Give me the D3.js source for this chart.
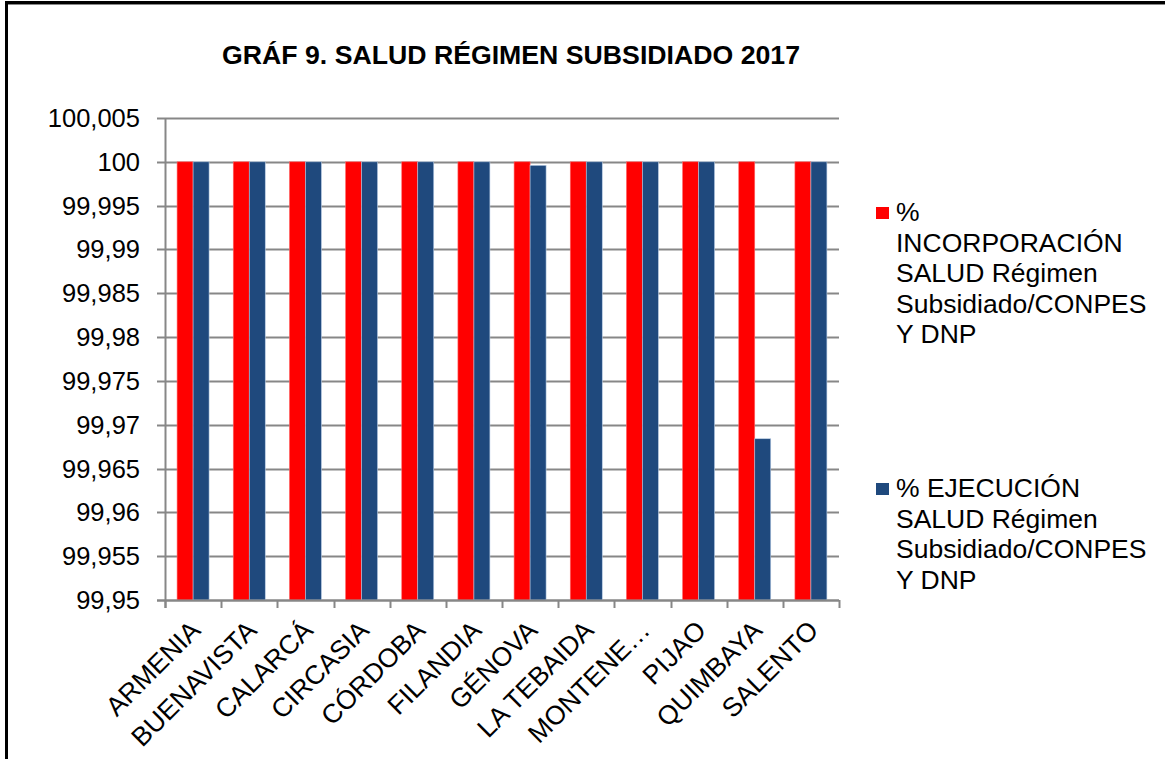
<!DOCTYPE html>
<html>
<head>
<meta charset="utf-8">
<script src="https://cdn.jsdelivr.net/npm/d3@7"></script>
<style>
  body { margin: 0; background: #fff; }
  svg text { font-family: "Liberation Sans", Arial, sans-serif; fill: #000; }
</style>
</head>
<body>
<script>
(function () {

    //chart data
    var municipios = ["ARMENIA", "BUENAVISTA", "CALARCÁ", "CIRCASIA", "CÓRDOBA", "FILANDIA",
        "GÉNOVA", "LA TEBAIDA", "MONTENE…", "PIJAO", "QUIMBAYA", "SALENTO"];
    var incorporacion = [100, 100, 100, 100, 100, 100, 100, 100, 100, 100, 100, 100];
    var ejecucion = [100, 100, 100, 100, 100, 100, 99.9996, 100, 100, 100, 99.9684, 100];
    var yTicks = [99.95, 99.955, 99.96, 99.965, 99.97, 99.975, 99.98, 99.985, 99.99, 99.995, 100, 100.005];
    var seriesNames = [
        ["%", "INCORPORACIÓN", "SALUD Régimen", "Subsidiado/CONPES", "Y DNP"],
        ["% EJECUCIÓN", "SALUD Régimen", "Subsidiado/CONPES", "Y DNP"]
    ];
    var colors = ["#FF0000", "#1F497D"];

    var width = 1165, height = 759;
    var plot = { left: 165, right: 839, top: 118, bottom: 600 };

    var svg = d3.select("body").append("svg")
        .attr("width", width)
        .attr("height", height);

    //outer frame (top and left edges visible)
    svg.append("rect").attr("x", 0).attr("y", 0).attr("width", width).attr("height", height).attr("fill", "#fff");
    svg.append("line").attr("x1", 5).attr("x2", width).attr("y1", 2.5).attr("y2", 2.5)
        .attr("stroke", "#000").attr("stroke-width", 3);
    svg.append("line").attr("x1", 5).attr("x2", width).attr("y1", 4.5).attr("y2", 4.5)
        .attr("stroke", "#888").attr("stroke-width", 1);
    svg.append("line").attr("x1", 6.5).attr("x2", 6.5).attr("y1", 1).attr("y2", height)
        .attr("stroke", "#000").attr("stroke-width", 3);

    //title
    svg.append("text")
        .attr("x", 511).attr("y", 64)
        .attr("text-anchor", "middle")
        .style("font-size", "25px")
        .style("font-weight", "bold")
        .attr("textLength", 578)
        .attr("lengthAdjust", "spacingAndGlyphs")
        .text("GRÁF 9. SALUD RÉGIMEN SUBSIDIADO 2017");

    //scales
    var x = d3.scaleBand().domain(municipios).range([plot.left, plot.right]).paddingInner(0).paddingOuter(0);
    var y = d3.scaleLinear().domain([99.95, 100.005]).range([plot.bottom, plot.top]);

    //gridlines
    svg.append("g").selectAll("line")
        .data(yTicks)
        .enter()
        .append("line")
        .attr("x1", plot.left - 8)
        .attr("x2", plot.right)
        .attr("y1", function (d) { return Math.round(y(d)) + 0.5; })
        .attr("y2", function (d) { return Math.round(y(d)) + 0.5; })
        .attr("stroke", "#878787")
        .attr("stroke-width", 2);

    //y labels
    var fmt = function (d) { return (+d.toFixed(3)).toString().replace(".", ","); };
    svg.append("g").selectAll("text")
        .data(yTicks)
        .enter()
        .append("text")
        .attr("x", 140)
        .attr("y", function (d) { return y(d) + 9; })
        .attr("text-anchor", "end")
        .style("font-size", "25.5px")
        .text(fmt);

    //bars
    var barW = 16;
    var series = [incorporacion, ejecucion];
    series.forEach(function (vals, s) {
        svg.append("g").selectAll("rect")
            .data(municipios)
            .enter()
            .append("rect")
            .attr("x", function (d) { return x(d) + x.bandwidth() / 2 - barW + s * barW; })
            .attr("y", function (d, i) { return y(vals[i]); })
            .attr("width", barW)
            .attr("height", function (d, i) { return plot.bottom - y(vals[i]); })
            .attr("fill", colors[s])
            .attr("stroke", s === 0 ? "#FF6A6A" : "#B9CDE5")
            .attr("stroke-width", 0.6);
    });

    //axes lines
    svg.append("line").attr("x1", plot.left + 0.5).attr("x2", plot.left + 0.5)
        .attr("y1", plot.top).attr("y2", plot.bottom + 8)
        .attr("stroke", "#878787").attr("stroke-width", 2);
    svg.append("line").attr("x1", plot.left - 8).attr("x2", plot.right)
        .attr("y1", plot.bottom + 0.5).attr("y2", plot.bottom + 0.5)
        .attr("stroke", "#878787").attr("stroke-width", 2);

    //category tick marks
    var bounds = municipios.map(function (d) { return x(d); }).concat([plot.right]);
    svg.append("g").selectAll("line")
        .data(bounds)
        .enter()
        .append("line")
        .attr("x1", function (d) { return Math.round(d) + 0.5; })
        .attr("x2", function (d) { return Math.round(d) + 0.5; })
        .attr("y1", plot.bottom)
        .attr("y2", plot.bottom + 8)
        .attr("stroke", "#878787")
        .attr("stroke-width", 2);

    //x labels rotated
    svg.append("g").selectAll("text")
        .data(municipios)
        .enter()
        .append("text")
        .attr("text-anchor", "end")
        .attr("transform", function (d) {
            return "translate(" + (x(d) + x.bandwidth() / 2 + 9) + "," + 632 + ") rotate(-45)";
        })
        .style("font-size", "26.5px")
        .text(function (d) { return d; });

    //legend
    var legendY = [221, 497];
    seriesNames.forEach(function (lines, s) {
        svg.append("rect")
            .attr("x", 876).attr("y", legendY[s] - 14)
            .attr("width", 13).attr("height", 12)
            .attr("fill", colors[s]);
        svg.append("g").selectAll("text")
            .data(lines)
            .enter()
            .append("text")
            .attr("x", 896)
            .attr("y", function (d, i) { return legendY[s] + i * 30.5; })
            .style("font-size", "26.5px")
            .text(function (d) { return d; });
    });

})();
</script>
</body>
</html>
